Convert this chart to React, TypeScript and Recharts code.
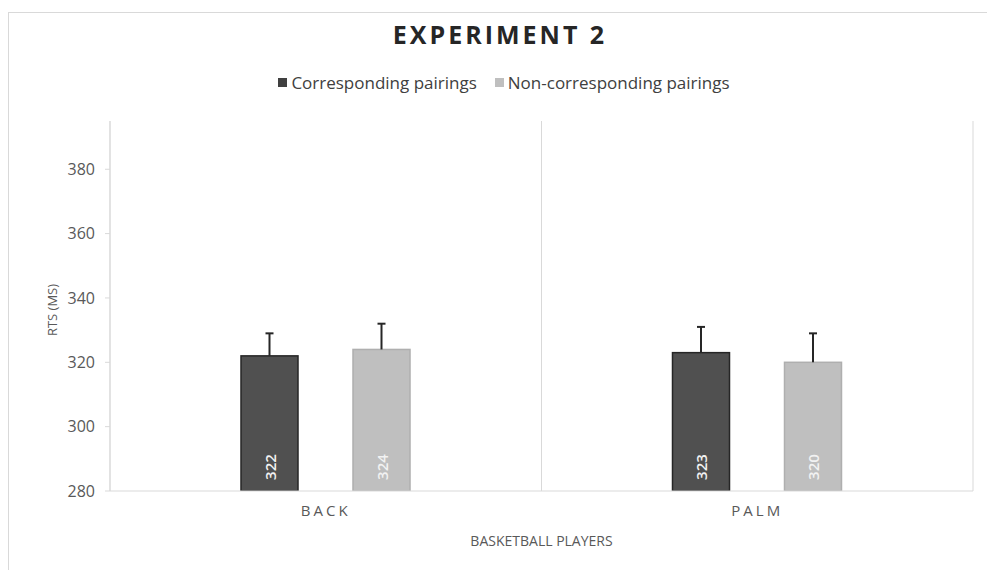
import React from "react";
import { BarChart, Bar, XAxis, YAxis, CartesianGrid, LabelList, Label } from "recharts";

const groups = ["BACK", "PALM"];
const corresponding = [322, 323];
const nonCorresponding = [324, 320];
const correspondingErr = [7, 8];
const nonCorrespondingErr = [8, 9];
const yTicks = [280, 300, 320, 340, 360, 380];

const Y_MIN = 280;
const Y_MAX = 395;
const FONT = "'Open Sans', 'Noto Sans', sans-serif";

const data = groups.map((group, i) => ({
  group,
  corr: corresponding[i],
  non: nonCorresponding[i],
  corrErr: correspondingErr[i],
  nonErr: nonCorrespondingErr[i],
}));

// bar rectangle plus an upward-only error whisker, sized from the bar's own scale
function barWithWhisker(valueKey: string, errKey: string, fill: string, stroke: string) {
  return (props: any) => {
    const { x, y, width, height, payload } = props;
    const v = payload[valueKey];
    const perUnit = height / (v - Y_MIN);
    const top = y - payload[errKey] * perUnit;
    const cx = x + width / 2;
    return (
      <g>
        <rect x={x} y={y} width={width} height={height} fill={fill} stroke={stroke} strokeWidth={1.5} />
        <line x1={cx} y1={y} x2={cx} y2={top} stroke="#262626" strokeWidth={2} />
        <line x1={cx - 4} y1={top} x2={cx + 4} y2={top} stroke="#262626" strokeWidth={2} />
      </g>
    );
  };
}

function insideLabel(color: string) {
  return (props: any) => {
    const { x, y, width, height, value } = props;
    const cx = x + width / 2;
    const ty = y + height - 24;
    return (
      <text
        x={cx}
        y={ty}
        transform={`rotate(-90 ${cx} ${ty})`}
        textAnchor="middle"
        dominantBaseline="central"
        fill={color}
        fontSize={15}
        fontWeight={600}
        fontFamily={FONT}
      >
        {value}
      </text>
    );
  };
}

function YTitle(props: any) {
  const { x, y, height } = props.viewBox;
  const cx = x + 2;
  const cy = y + height / 2 + 4;
  return (
    <text
      x={cx}
      y={cy}
      transform={`rotate(-90 ${cx} ${cy})`}
      textAnchor="middle"
      dominantBaseline="central"
      fill="#595959"
      fontSize={13}
      fontFamily={FONT}
    >
      RTS (MS)
    </text>
  );
}

function XTitle(props: any) {
  const { x, y, width } = props.viewBox;
  return (
    <text
      x={x + width / 2}
      y={y + 49}
      textAnchor="middle"
      dominantBaseline="central"
      fill="#595959"
      fontSize={14}
      fontFamily={FONT}
    >
      BASKETBALL PLAYERS
    </text>
  );
}

function LegendItem({ color, label }: { color: string; label: string }) {
  return (
    <div style={{ display: "flex", alignItems: "center", gap: 4 }}>
      <span style={{ width: 9, height: 9, background: color, display: "inline-block" }} />
      <span>{label}</span>
    </div>
  );
}

export default function App() {
  return (
    <div
      style={{
        position: "relative",
        width: 984,
        height: 575,
        marginTop: 4,
        border: "1px solid #d9d9d9",
        boxSizing: "border-box",
        background: "#fff",
        fontFamily: FONT,
      }}
    >
      <div
        style={{
          position: "absolute",
          top: 4,
          left: 0,
          width: "100%",
          textAlign: "center",
          fontSize: 25,
          fontWeight: 700,
          letterSpacing: 3,
          color: "#262626",
        }}
      >
        EXPERIMENT 2
      </div>
      <div
        style={{
          position: "absolute",
          top: 58,
          left: 4,
          width: "100%",
          display: "flex",
          justifyContent: "center",
          gap: 18,
          fontSize: 17,
          color: "#404040",
        }}
      >
        <LegendItem color="#404040" label="Corresponding pairings" />
        <LegendItem color="#bfbfbf" label="Non-corresponding pairings" />
      </div>
      <div style={{ position: "absolute", top: 0, left: 0 }}>
        <BarChart
          width={982}
          height={556}
          data={data}
          margin={{ top: 108, right: 18, bottom: 18, left: 41 }}
          barSize={57}
          barGap={55}
        >
          <CartesianGrid
            horizontal={false}
            stroke="#d9d9d9"
            verticalCoordinatesGenerator={({ offset }: any) => [
              offset.left,
              offset.left + offset.width / 2,
              offset.left + offset.width,
            ]}
          />
          <XAxis
            dataKey="group"
            height={60}
            axisLine={{ stroke: "#d9d9d9" }}
            tickLine={false}
            tickSize={0}
            tickMargin={14}
            tick={{ fill: "#595959", fontSize: 15, fontFamily: FONT, letterSpacing: 3 }}
          >
            <Label content={XTitle} />
          </XAxis>
          <YAxis
            width={60}
            domain={[Y_MIN, Y_MAX]}
            ticks={yTicks}
            allowDataOverflow
            axisLine={{ stroke: "#d9d9d9" }}
            tickLine={{ stroke: "#d9d9d9" }}
            tickSize={5}
            tickMargin={10}
            tick={{ fill: "#595959", fontSize: 16, fontFamily: FONT }}
          >
            <Label content={YTitle} />
          </YAxis>
          <Bar
            dataKey="corr"
            name="Corresponding pairings"
            fill="#505050"
            isAnimationActive={false}
            shape={barWithWhisker("corr", "corrErr", "#505050", "#262626")}
          >
            <LabelList dataKey="corr" content={insideLabel("#f2f2f2")} />
          </Bar>
          <Bar
            dataKey="non"
            name="Non-corresponding pairings"
            fill="#bfbfbf"
            isAnimationActive={false}
            shape={barWithWhisker("non", "nonErr", "#bfbfbf", "#afafaf")}
          >
            <LabelList dataKey="non" content={insideLabel("#f2f2f2")} />
          </Bar>
        </BarChart>
      </div>
    </div>
  );
}
